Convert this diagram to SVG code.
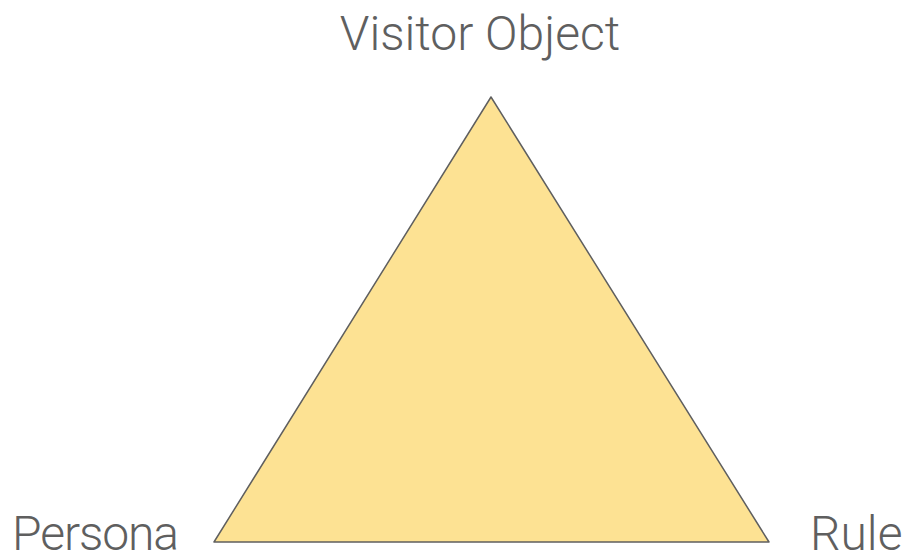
<svg xmlns="http://www.w3.org/2000/svg" width="905" height="554" viewBox="0 0 905 554">
<style>
.lbl{font-family:Roboto,"Liberation Sans",sans-serif;font-weight:300;font-size:48px;fill:#5f5f5f}
.tri{fill:#fde293;stroke:#5f5f5f;stroke-width:1.5;stroke-linejoin:round}
</style>
<rect width="905" height="554" fill="#ffffff"/>
<g id="triangle"><polygon class="tri" points="491,97 214,542 769,542"/></g>
<g id="visitor-object"><text class="lbl" x="480" y="50" text-anchor="middle">Visitor Object</text></g>
<g id="persona"><text class="lbl" x="12" y="550" textLength="167" lengthAdjust="spacing">Persona</text></g>
<g id="rule"><text class="lbl" x="810" y="550">Rule</text></g>
<g id="connectors"></g>
</svg>
